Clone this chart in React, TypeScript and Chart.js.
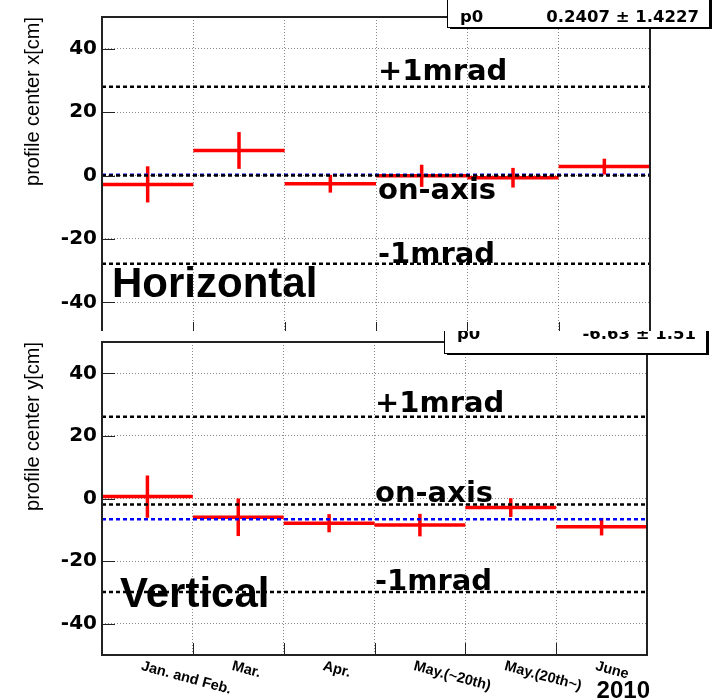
import React, { useEffect, useRef } from 'react';
import { Chart, registerables } from 'chart.js';

Chart.register(...registerables);

// ---------------- data ----------------
const categories = ['Jan. and Feb.', 'Mar.', 'Apr.', 'May.(~20th)', 'May.(20th~)', 'June'];
const yTickValues = [-40, -20, 0, 20, 40];
const yMin = -50;
const yMax = 50;

const horizontalValues = [-2.8, 7.9, -2.6, -0.1, -0.7, 2.8];
const horizontalErrors = [5.7, 5.8, 2.8, 3.5, 3.1, 2.5];
const horizontalFit = 0.2407;
const horizontalFitError = 1.4227;
const horizontalRefs = [28, 0, -27.8]; // +1mrad, on-axis, -1mrad

const verticalValues = [0.6, -6.0, -7.9, -8.5, -2.9, -9.0];
const verticalErrors = [6.75, 6.0, 2.9, 3.6, 3.0, 2.8];
const verticalFit = -6.63;
const verticalFitError = 1.51;
const verticalRefs = [26.1, -1.9, -29.9];

const refLabels = ['+1mrad', 'on-axis', '-1mrad'];
const yearLabel = '2010';

// ---------------- styling ----------------
const DEJAVU = '"DejaVu Sans", sans-serif';
const LIB = '"Liberation Sans", Arial, sans-serif';

function buildDatasets(values: number[], errors: number[], fit: number, refs: number[]) {
  const n = values.length;
  const common = {
    showLine: true,
    pointRadius: 0,
    pointHoverRadius: 0,
    fill: false,
    tension: 0,
    borderCapStyle: 'butt' as const,
  };
  const ds: any[] = [];
  refs.forEach((c) => {
    ds.push({
      ...common,
      data: [{ x: 0, y: c }, { x: n, y: c }],
      borderColor: '#000000',
      borderWidth: 2.5,
      borderDash: [4, 3],
      order: 0,
    });
  });
  ds.push({
    ...common,
    data: [{ x: 0, y: fit }, { x: n, y: fit }],
    borderColor: '#0000ff',
    borderWidth: 2.5,
    borderDash: [4, 3],
    order: 1,
  });
  values.forEach((v, i) => {
    ds.push({
      ...common,
      data: [{ x: i, y: v }, { x: i + 1, y: v }],
      borderColor: '#ff0000',
      borderWidth: 3.5,
      order: 2,
    });
    ds.push({
      ...common,
      data: [{ x: i + 0.5, y: v - errors[i] }, { x: i + 0.5, y: v + errors[i] }],
      borderColor: '#ff0000',
      borderWidth: 3.5,
      order: 2,
    });
  });
  return ds;
}

type PanelCfg = {
  values: number[];
  errors: number[];
  fit: number;
  fitErr: number;
  refs: number[];
  title: string;
  padTop: number;
  padRight: number;
  xHeight: number;
  whiteBg: boolean;
  showXLabels: boolean;
  refTexts: { x: number; y: number }[];
  nameText: { text: string; x: number; y: number };
  statBox: { x: number; y: number; w: number; h: number; baseline: number };
};

function makeConfig(p: PanelCfg): any {
  const n = categories.length;
  const boundaries = categories.map((_, i) => i).concat(n);
  const decor = {
    id: 'decor',
    beforeDraw(chart: any) {
      if (!p.whiteBg) return;
      const ctx = chart.ctx;
      ctx.save();
      ctx.fillStyle = '#ffffff';
      ctx.fillRect(0, 0, chart.width, chart.height);
      ctx.restore();
    },
    afterDraw(chart: any) {
      const ctx = chart.ctx as CanvasRenderingContext2D;
      const { left, right, top, bottom } = chart.chartArea;
      const xs = chart.scales.x;
      const ys = chart.scales.y;
      ctx.save();
      // inner tick marks
      ctx.strokeStyle = '#222';
      ctx.lineWidth = 1;
      ctx.beginPath();
      yTickValues.forEach((v) => {
        const py = Math.round(ys.getPixelForValue(v)) + 0.5;
        ctx.moveTo(left, py);
        ctx.lineTo(left + 13, py);
      });
      for (let i = 1; i < n; i++) {
        const px = Math.round(xs.getPixelForValue(i)) + 0.5;
        ctx.moveTo(px, bottom);
        ctx.lineTo(px, bottom - 12);
      }
      ctx.stroke();
      // frame
      ctx.lineWidth = 2;
      ctx.strokeStyle = '#222';
      ctx.strokeRect(left, top, right - left, bottom - top);

      // reference annotations
      ctx.fillStyle = '#000';
      ctx.textAlign = 'left';
      ctx.textBaseline = 'alphabetic';
      ctx.font = `bold 29px ${DEJAVU}`;
      refLabels.forEach((t, i) => {
        ctx.fillText(t, p.refTexts[i].x, p.refTexts[i].y);
      });
      ctx.font = `bold 42px ${LIB}`;
      ctx.fillText(p.nameText.text, p.nameText.x, p.nameText.y);

      // x labels
      if (p.showXLabels) {
        ctx.font = `bold 14.5px ${LIB}`;
        ctx.textBaseline = 'top';
        categories.forEach((c, i) => {
          const px = xs.getPixelForValue(i + 0.5) - 4;
          ctx.save();
          ctx.translate(px, bottom + 4);
          ctx.rotate((15 * Math.PI) / 180);
          ctx.fillText(c, 0, 0);
          ctx.restore();
        });
        ctx.textBaseline = 'alphabetic';
        ctx.textAlign = 'right';
        ctx.font = `bold 24px ${LIB}`;
        ctx.fillText(yearLabel, right + 3, chart.height);
      }

      // stat box
      const b = p.statBox;
      ctx.fillStyle = '#000';
      ctx.fillRect(b.x + 3, b.y + 2, b.w, b.h);
      ctx.fillStyle = '#fff';
      ctx.fillRect(b.x, b.y, b.w, b.h);
      ctx.lineWidth = 1;
      ctx.strokeStyle = '#000';
      ctx.strokeRect(b.x + 0.5, b.y + 0.5, b.w, b.h);
      ctx.fillStyle = '#000';
      ctx.font = `bold 16.5px ${DEJAVU}`;
      ctx.textAlign = 'left';
      ctx.fillText('p0', b.x + 13, b.baseline);
      ctx.textAlign = 'right';
      ctx.fillText(`${p.fit} \u00b1 ${p.fitErr}`, b.x + b.w - 10, b.baseline);
      ctx.restore();
    },
  };

  const gridCommon = { color: '#888', lineWidth: 1, drawTicks: false };
  return {
    type: 'scatter',
    data: { datasets: buildDatasets(p.values, p.errors, p.fit, p.refs) },
    options: {
      responsive: false,
      animation: false,
      events: [],
      layout: { padding: { left: 0, right: p.padRight, top: p.padTop, bottom: 0 } },
      plugins: { legend: { display: false }, tooltip: { enabled: false } },
      scales: {
        x: {
          type: 'linear',
          min: 0,
          max: n,
          afterBuildTicks: (s: any) => {
            s.ticks = boundaries.map((v) => ({ value: v }));
          },
          afterFit: (s: any) => {
            s.height = p.xHeight;
          },
          ticks: { display: false },
          grid: gridCommon,
          border: { display: false, dash: [1, 2] },
        },
        y: {
          type: 'linear',
          min: yMin,
          max: yMax,
          afterBuildTicks: (s: any) => {
            s.ticks = yTickValues.map((v) => ({ value: v }));
          },
          afterFit: (s: any) => {
            s.width = 102;
          },
          ticks: {
            color: '#000',
            padding: 5,
            font: { family: DEJAVU, size: 20, weight: 'bold', lineHeight: 0.6 },
          },
          grid: gridCommon,
          border: { display: false, dash: [1, 2] },
          title: {
            display: true,
            text: p.title,
            align: 'end',
            color: '#000',
            font: { family: LIB, size: 20, weight: 'normal' },
            padding: { top: 21, bottom: 0 },
          },
        },
      },
    },
    plugins: [decor],
  };
}

const TOP_H = 346;
const BOT_TOP = 331;
const BOT_H = 698 - BOT_TOP;

export default function App() {
  const topRef = useRef<HTMLCanvasElement | null>(null);
  const botRef = useRef<HTMLCanvasElement | null>(null);

  useEffect(() => {
    const topChart = new Chart(
      topRef.current as HTMLCanvasElement,
      makeConfig({
        values: horizontalValues,
        errors: horizontalErrors,
        fit: horizontalFit,
        fitErr: horizontalFitError,
        refs: horizontalRefs,
        title: 'profile center x[cm]',
        padTop: 17,
        padRight: 714 - 650,
        xHeight: TOP_H - 334,
        whiteBg: false,
        showXLabels: false,
        refTexts: [
          { x: 378, y: 80 },
          { x: 378, y: 199 },
          { x: 378, y: 263 },
        ],
        nameText: { text: 'Horizontal', x: 112, y: 297 },
        statBox: { x: 447, y: -5, w: 262, h: 32, baseline: 22 },
      })
    );
    const botChart = new Chart(
      botRef.current as HTMLCanvasElement,
      makeConfig({
        values: verticalValues,
        errors: verticalErrors,
        fit: verticalFit,
        fitErr: verticalFitError,
        refs: verticalRefs,
        title: 'profile center y[cm]',
        padTop: 342 - BOT_TOP,
        padRight: 714 - 647,
        xHeight: 698 - 655,
        whiteBg: true,
        showXLabels: true,
        refTexts: [
          { x: 375, y: 412 - BOT_TOP },
          { x: 375, y: 502 - BOT_TOP },
          { x: 375, y: 590 - BOT_TOP },
        ],
        nameText: { text: 'Vertical', x: 120, y: 607 - BOT_TOP },
        statBox: { x: 444, y: -12, w: 262, h: 353 - BOT_TOP + 12, baseline: 339 - BOT_TOP },
      })
    );
    return () => {
      topChart.destroy();
      botChart.destroy();
    };
  }, []);

  return (
    <div style={{ position: 'absolute', left: 0, top: 0, width: 714, height: 698, background: '#fff', overflow: 'hidden' }}>
      <canvas ref={topRef} width={714} height={TOP_H} style={{ position: 'absolute', left: 0, top: 0 }} />
      <canvas ref={botRef} width={714} height={BOT_H} style={{ position: 'absolute', left: 0, top: BOT_TOP }} />
    </div>
  );
}
